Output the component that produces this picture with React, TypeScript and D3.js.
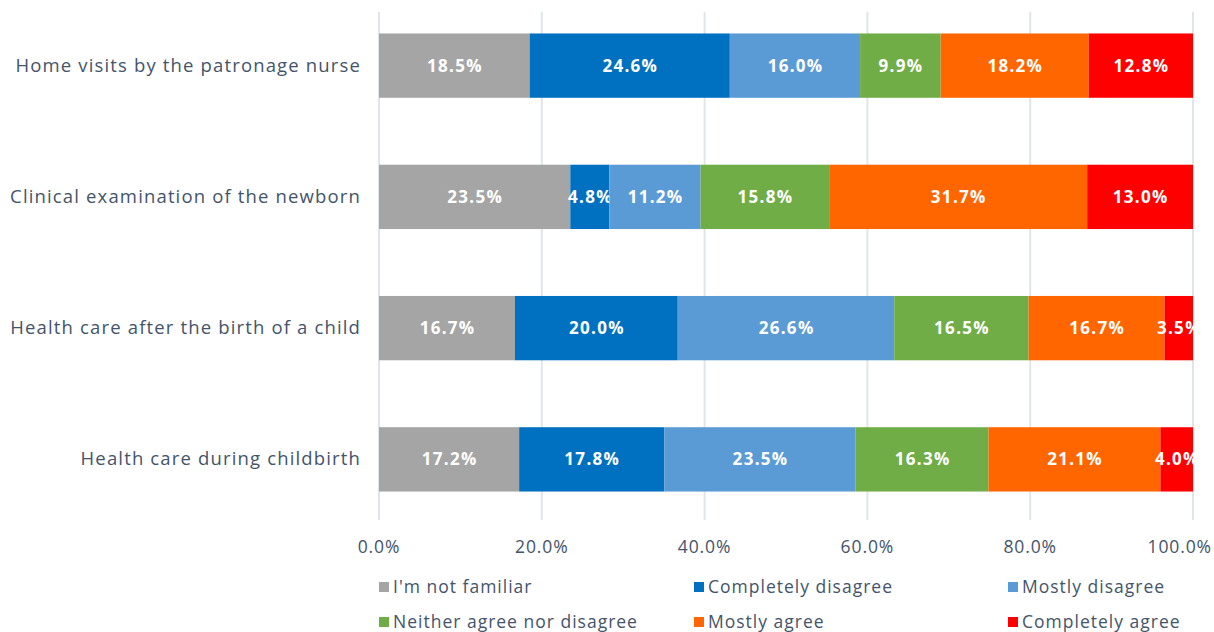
import React from "react";
import * as d3 from "d3";

const categories = [
  "Home visits by the patronage nurse",
  "Clinical examination of the newborn",
  "Health care after the birth of a child",
  "Health care during childbirth",
];
const seriesNames = [
  "I'm not familiar",
  "Completely disagree",
  "Mostly disagree",
  "Neither agree nor disagree",
  "Mostly agree",
  "Completely agree",
];
const seriesColors = ["#a5a5a5", "#0070c0", "#5b9bd5", "#70ad47", "#ff6600", "#ff0000"];
const notFamiliar = [18.5, 23.5, 16.7, 17.2];
const completelyDisagree = [24.6, 4.8, 20.0, 17.8];
const mostlyDisagree = [16.0, 11.2, 26.6, 23.5];
const neither = [9.9, 15.8, 16.5, 16.3];
const mostlyAgree = [18.2, 31.7, 16.7, 21.1];
const completelyAgree = [12.8, 13.0, 3.5, 4.0];
const xTicks = [0, 0.2, 0.4, 0.6, 0.8, 1.0];

const seriesValues = [notFamiliar, completelyDisagree, mostlyDisagree, neither, mostlyAgree, completelyAgree];

const W = 1214;
const H = 632;
const FONT = "'Open Sans', 'Noto Sans', sans-serif";
const TEXT = "#44546a";

export default function App() {
  const x = d3.scaleLinear().domain([0, 1]).range([379, 1193]);
  const y = d3.scaleBand<string>().domain(categories).range([0, 525]).paddingInner(0.51).paddingOuter(0.255);

  const rows = categories.map((c, i) => {
    const vals = seriesValues.map((s) => s[i]);
    const total = d3.sum(vals);
    let acc = 0;
    return vals.map((v, k) => {
      const x0 = acc / total;
      acc += v;
      const x1 = acc / total;
      return { cat: c, v, x0, x1, k };
    });
  });

  const legendCols = [379, 694, 1008];
  const legendRows = [587, 622];

  return (
    <svg width={W} height={H} style={{ position: "absolute", left: 0, top: 0, background: "#fff" }}>
      <rect x={0} y={0} width={W} height={H} fill="#fff" />
      {xTicks.map((t) => (
        <line key={t} x1={x(t)} x2={x(t)} y1={12} y2={520} stroke="#e1e5eb" strokeWidth={2} />
      ))}
      {rows.map((segs, i) =>
        segs.map((s) => (
          <g key={i + "-" + s.k}>
            <rect
              x={x(s.x0)}
              y={y(s.cat)}
              width={x(s.x1) - x(s.x0)}
              height={y.bandwidth()}
              fill={seriesColors[s.k]}
            />
            <text
              x={(x(s.x0) + x(s.x1)) / 2 + 0.6}
              y={(y(s.cat) as number) + y.bandwidth() / 2 + 6}
              textAnchor="middle"
              fill="#fff"
              fontFamily={FONT}
              fontWeight={700}
              fontSize={17}
              letterSpacing={1.3}
            >
              {s.v.toFixed(1) + "%"}
            </text>
          </g>
        ))
      )}
      {categories.map((c) => (
        <text
          key={c}
          x={361}
          y={(y(c) as number) + y.bandwidth() / 2 + 6}
          textAnchor="end"
          fill={TEXT}
          fontFamily={FONT}
          fontSize={18.5}
          letterSpacing={1.15}
        >
          {c}
        </text>
      ))}
      {xTicks.map((t, i) => {
        const last = i === xTicks.length - 1;
        return (
          <text
            key={"t" + t}
            x={last ? W - 2 : x(t)}
            y={553}
            textAnchor={last ? "end" : "middle"}
            fill={TEXT}
            fontFamily={FONT}
            fontSize={17.5}
            letterSpacing={0.9}
          >
            {(t * 100).toFixed(1) + "%"}
          </text>
        );
      })}
      {seriesNames.map((n, k) => {
        const lx = legendCols[k % 3];
        const ly = legendRows[Math.floor(k / 3)];
        return (
          <g key={n}>
            <rect x={lx} y={ly - 5} width={10} height={10} fill={seriesColors[k]} />
            <text x={lx + 14} y={ly + 6} fill={TEXT} fontFamily={FONT} fontSize={17.5} letterSpacing={1}>
              {n}
            </text>
          </g>
        );
      })}
    </svg>
  );
}
